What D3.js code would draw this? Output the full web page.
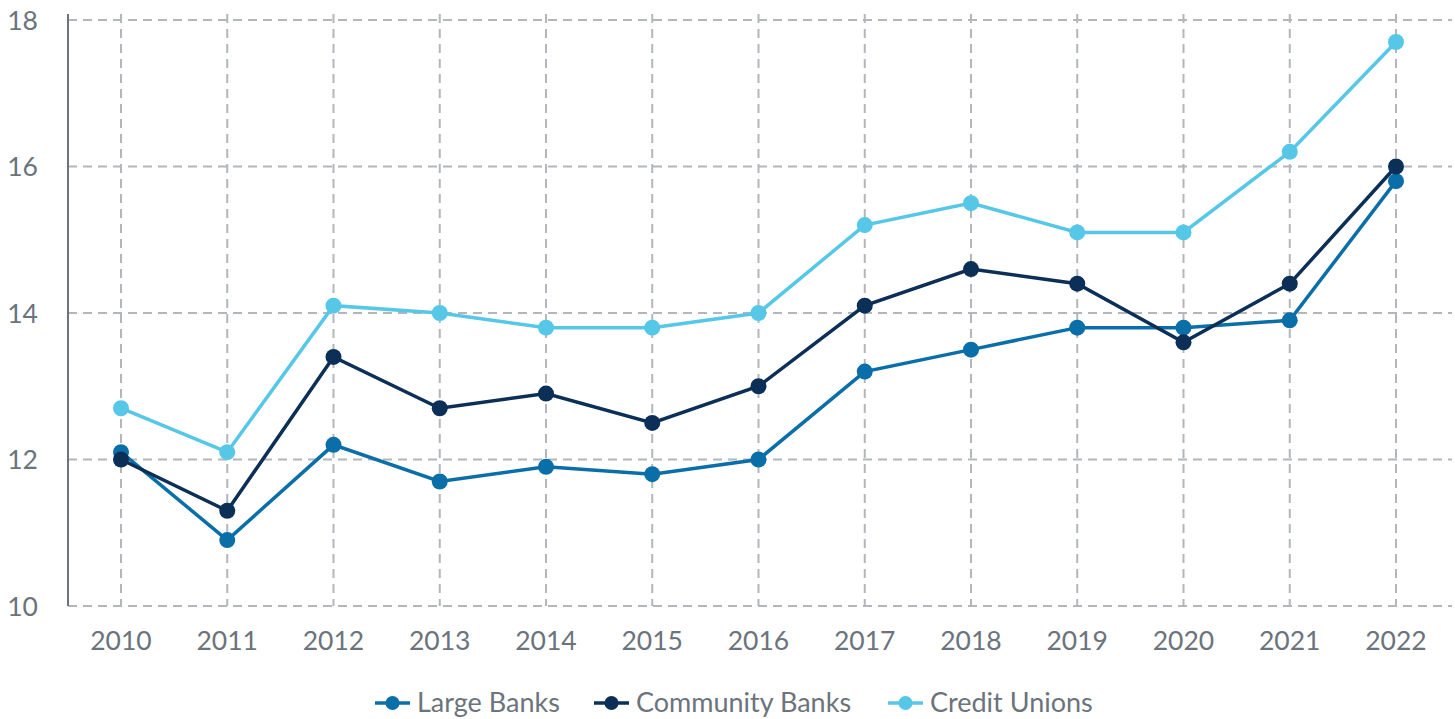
<!DOCTYPE html>
<html>
<head>
<meta charset="utf-8">
<script src="https://cdn.jsdelivr.net/npm/d3@7"></script>
<style>
  body { margin: 0; background: #fff; }
  text { font-family: Lato, "Open Sans", sans-serif; }
</style>
</head>
<body>
<div class="chart"></div>
<script>
// Chart data
var years = [2010, 2011, 2012, 2013, 2014, 2015, 2016, 2017, 2018, 2019, 2020, 2021, 2022];
var largeBanks = [12.1, 10.9, 12.2, 11.7, 11.9, 11.8, 12.0, 13.2, 13.5, 13.8, 13.8, 13.9, 15.8];
var communityBanks = [12.0, 11.3, 13.4, 12.7, 12.9, 12.5, 13.0, 14.1, 14.6, 14.4, 13.6, 14.4, 16.0];
var creditUnions = [12.7, 12.1, 14.1, 14.0, 13.8, 13.8, 14.0, 15.2, 15.5, 15.1, 15.1, 16.2, 17.7];
var yTicks = [10, 12, 14, 16, 18];

var seriesNames = ["Large Banks", "Community Banks", "Credit Unions"];
var seriesColors = ["#0a6ea8", "#0b2f56", "#56c7e6"];
var seriesValues = [largeBanks, communityBanks, creditUnions];

var svgWidth = 1455;
var svgHeight = 719;

var svg = d3.select(".chart")
  .append("svg")
  .attr("width", svgWidth)
  .attr("height", svgHeight);

// scales
var x = d3.scaleLinear().domain([2010, 2022]).range([121, 1396]);
var y = d3.scaleLinear().domain([10, 18]).range([606, 20]);

var gridColor = "#b3b6ba";
var textColor = "#6b737c";

// horizontal grid lines
svg.append("g")
  .selectAll("line")
  .data(yTicks)
  .enter().append("line")
  .attr("x1", 68)
  .attr("x2", 1452)
  .attr("y1", function(d) { return y(d); })
  .attr("y2", function(d) { return y(d); })
  .attr("stroke", gridColor)
  .attr("stroke-width", 2)
  .attr("stroke-dasharray", "9,6");

// vertical grid lines
svg.append("g")
  .selectAll("line")
  .data(years)
  .enter().append("line")
  .attr("x1", function(d) { return x(d); })
  .attr("x2", function(d) { return x(d); })
  .attr("y1", 14)
  .attr("y2", 606)
  .attr("stroke", gridColor)
  .attr("stroke-width", 2)
  .attr("stroke-dasharray", "9,6");

// y axis line
svg.append("line")
  .attr("x1", 68).attr("x2", 68)
  .attr("y1", 14).attr("y2", 606)
  .attr("stroke", "#6b737c")
  .attr("stroke-width", 2);

// y tick labels
svg.append("g")
  .selectAll("text")
  .data(yTicks)
  .enter().append("text")
  .attr("x", 38)
  .attr("y", function(d) { return y(d); })
  .attr("dy", "0.36em")
  .attr("text-anchor", "end")
  .attr("fill", textColor)
  .attr("font-size", 26.5)
  .text(function(d) { return d; });

// x tick labels
svg.append("g")
  .selectAll("text")
  .data(years)
  .enter().append("text")
  .attr("x", function(d) { return x(d); })
  .attr("y", 650)
  .attr("text-anchor", "middle")
  .attr("fill", textColor)
  .attr("font-size", 26.5)
  .text(function(d) { return d; });

// lines and markers
var line = d3.line()
  .x(function(d, i) { return x(years[i]); })
  .y(function(d) { return y(d); });

seriesValues.forEach(function(vals, s) {
  var g = svg.append("g");
  g.append("path")
    .datum(vals)
    .attr("d", line)
    .attr("fill", "none")
    .attr("stroke", seriesColors[s])
    .attr("stroke-width", 3.5);
  g.selectAll("circle")
    .data(vals)
    .enter().append("circle")
    .attr("cx", function(d, i) { return x(years[i]); })
    .attr("cy", function(d) { return y(d); })
    .attr("r", 8)
    .attr("fill", seriesColors[s]);
});

// legend
var legendX = [375, 594, 888];
var legend = svg.append("g");
seriesNames.forEach(function(name, s) {
  var lg = legend.append("g").attr("transform", "translate(" + legendX[s] + ",703)");
  lg.append("line")
    .attr("x1", 0).attr("x2", 35)
    .attr("y1", 0).attr("y2", 0)
    .attr("stroke", seriesColors[s])
    .attr("stroke-width", 3.5);
  lg.append("circle")
    .attr("cx", 17.5).attr("cy", 0).attr("r", 7)
    .attr("fill", seriesColors[s]);
  lg.append("text")
    .attr("x", 42)
    .attr("y", 0)
    .attr("dy", "0.34em")
    .attr("fill", textColor)
    .attr("font-size", 27)
    .text(name);
});
</script>
</body>
</html>
